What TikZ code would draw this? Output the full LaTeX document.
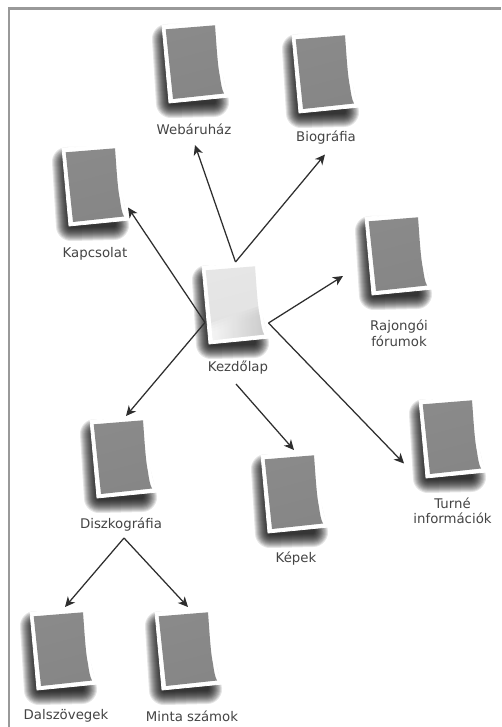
\documentclass[tikz,border=0pt]{standalone}
\usepackage{fontspec}
\setmainfont{DejaVu Sans}
\usetikzlibrary{arrows.meta}
\definecolor{framec}{HTML}{999999}
\definecolor{inkc}{HTML}{444444}
\definecolor{linec}{HTML}{2E2E2E}
\definecolor{pagetop}{HTML}{8A8A8A}
\definecolor{pagemid}{HTML}{9E9E9E}
\definecolor{pagelow}{HTML}{868686}
\definecolor{lighttop}{HTML}{E6E6E6}
\definecolor{lightmid}{HTML}{F4F4F4}
\definecolor{lightlow}{HTML}{E2E2E2}
\newcommand{\outerp}{(0,0) -- (56,-3) .. controls (58,20) and (59,45) .. (61.5,55) .. controls (63,62) and (65,68) .. (68,72) -- (7,78) -- cycle}
\newcommand{\innerp}{(3.7,4.3) -- (53,0.3) .. controls (54.5,20) and (55.5,40) .. (58,52) .. controls (59,59) and (60,65) .. (62,68.5) -- (11,74) -- cycle}
\newcommand{\shadowp}{(5,14) -- (36,14) -- (52,77) -- (9,78) -- cycle}
\newcommand{\pageshadow}{%
  \foreach \w in {30,28,26,24,22,20,18,16,14,12,10,8,6,4}{%
    \draw[black,draw opacity=0.1,line width=\w pt,line join=round] \shadowp;}
  \fill[white,draw=white,line width=0.8pt,line join=round] \outerp;}
\tikzset{
  x=1pt,y=-1pt,
  every node/.style={inner sep=0pt,outer sep=0pt},
  lab/.style={font=\fontsize{13.3}{15.5}\selectfont,text=inkc,align=center,anchor=center},
  link/.style={draw=linec,line width=1.25pt,-{Stealth[length=10pt,width=9.5pt,inset=3pt]}},
  pics/greypage/.style={code={%
    \pageshadow
    \shade[top color=pagetop,middle color=pagemid,bottom color=pagelow,shading angle=15] \innerp;
  }},
  pics/lightpage/.style={code={%
    \pageshadow
    \shade[top color=lighttop,middle color=lightmid,bottom color=lightlow,shading angle=15] \innerp;
    \begin{scope}
      \clip \innerp;
      \foreach \d in {0,3,6,9}{%
        \shade[left color=white,right color=black!24,opacity=0.3]
          (6,76) -- (9,{57+\d}) -- (60,{39+\d}) -- (66,76) -- cycle;}
    \end{scope}
  }}
}
\begin{document}
\begin{tikzpicture}
\useasboundingbox (0,0) rectangle (501,727);
\fill[white] (0,0) rectangle (501,727);
\fill[framec] (7.5,7.5) rectangle (501,10.3);
\fill[framec] (7.5,7.5) rectangle (10.3,727);

\pic at (162,25) {greypage};
\pic at (292,35) {greypage};
\pic at (62,148) {greypage};
\pic at (365,217) {greypage};
\pic at (419,400) {greypage};
\pic at (261,455) {greypage};
\pic at (90,420) {greypage};
\pic at (30,612) {greypage};
\pic at (155,612) {greypage};
\pic at (202,266) {lightpage};

\node[lab] (web) at (194,129) {Webáruház};
\node[lab] (bio) at (326,138) {Biográfia};
\node[lab] (kap) at (95,254) {Kapcsolat};
\node[lab] (raj) at (399,333.5) {Rajongói\\fórumok};
\node[lab] (kez) at (238,368) {Kezdőlap};
\node[lab] (tur) at (452.5,511) {Turné\\információk};
\node[lab] (dis) at (121,525) {Diszkográfia};
\node[lab] (kep) at (296,559) {Képek};
\node[lab] (dal) at (66,716) {Dalszövegek};
\node[lab] (min) at (192,716) {Minta számok};

\coordinate (hubtop) at (235.5,262);
\coordinate (hubleft) at (205,322.5);
\coordinate (hubright) at (268.5,323);
\coordinate (hubbottom) at (236,384);
\coordinate (hubdisc) at (124,538);
\coordinate (toweb) at (195,145);
\coordinate (tobio) at (325,154.5);
\coordinate (tokap) at (128,207.5);
\coordinate (toraj) at (343,276);
\coordinate (totur) at (404,463.5);
\coordinate (tokep) at (294,450);
\coordinate (todis) at (126,416);
\coordinate (todal) at (65,607);
\coordinate (tomin) at (188,607);

\draw[link] (hubtop) -- (toweb);
\draw[link] (hubtop) -- (tobio);
\draw[link] (hubleft) -- (tokap);
\draw[link] (hubleft) -- (todis);
\draw[link] (hubright) -- (toraj);
\draw[link] (hubright) -- (totur);
\draw[link] (hubbottom) -- (tokep);
\draw[link] (hubdisc) -- (todal);
\draw[link] (hubdisc) -- (tomin);
\end{tikzpicture}
\end{document}
